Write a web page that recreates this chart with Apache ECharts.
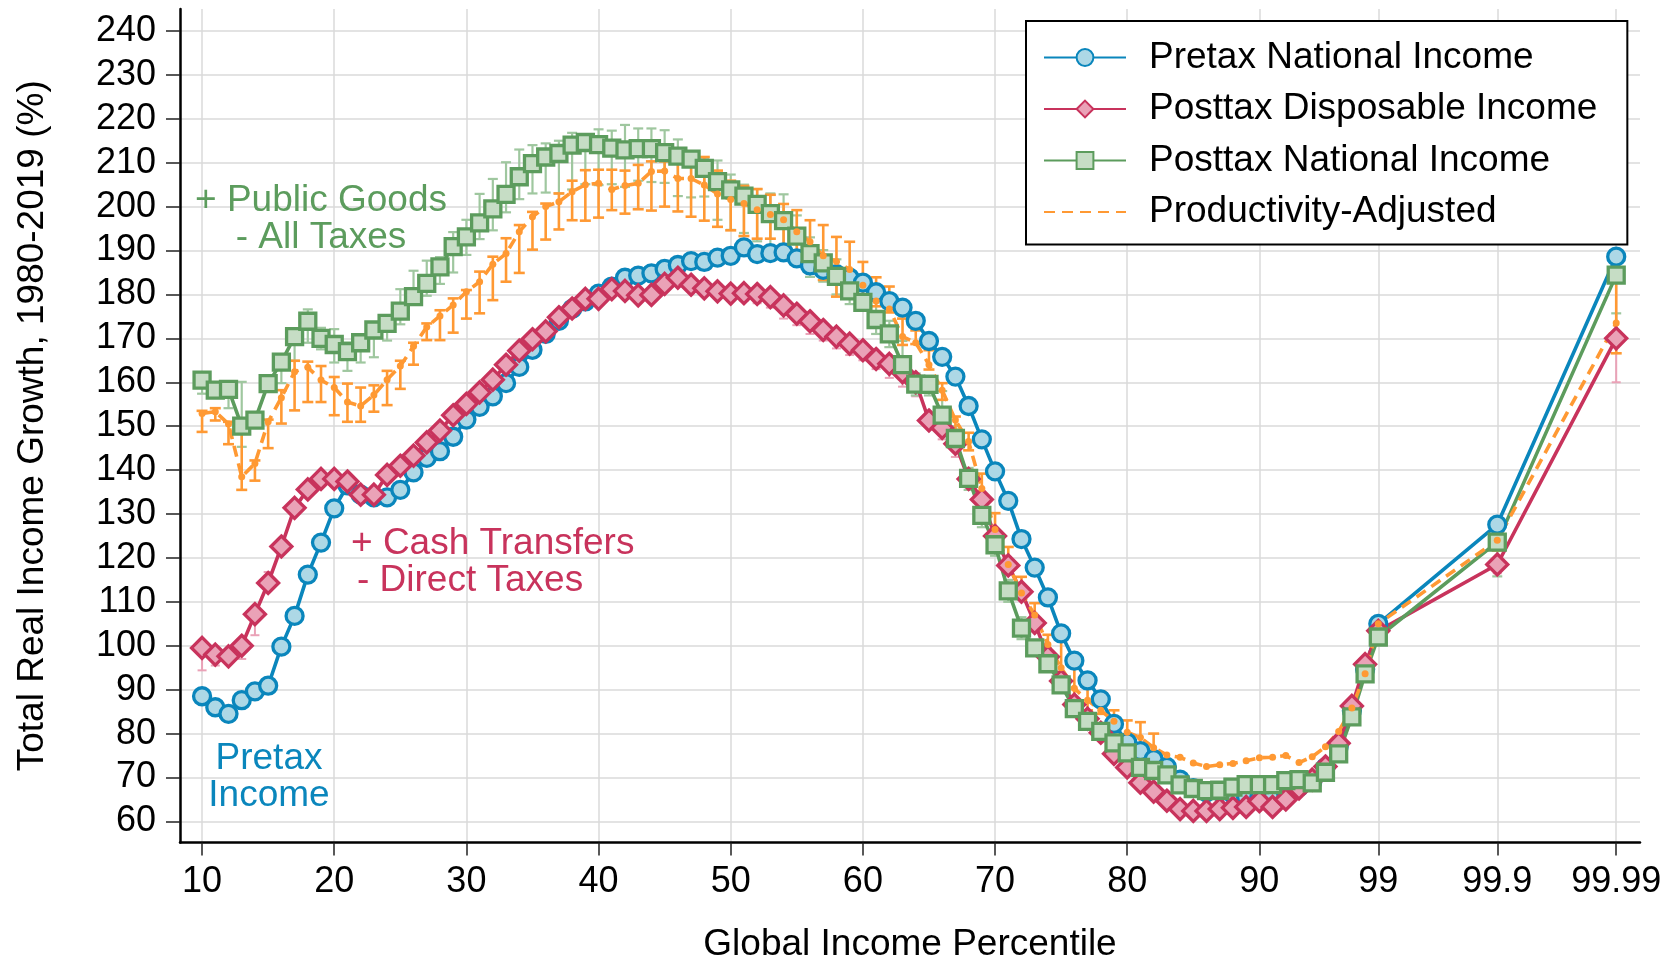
<!DOCTYPE html>
<html>
<head>
<meta charset="utf-8">
<title>Global Income Growth 1980-2019</title>
<script src="https://cdn.jsdelivr.net/npm/echarts@6.0.0/dist/echarts.min.js"></script>
<style>
  html, body { margin: 0; padding: 0; background: #fff; }
  #chart { width: 1677px; height: 961px; }
</style>
</head>
<body>
<div id="chart"></div>
<script>
// Axis positions of the percentile groups (99.9 and 99.99 sit at 108 and 117)
const pctl = [10, 11, 12, 13, 14, 15, 16, 17, 18, 19,
  20, 21, 22, 23, 24, 25, 26, 27, 28, 29,
  30, 31, 32, 33, 34, 35, 36, 37, 38, 39,
  40, 41, 42, 43, 44, 45, 46, 47, 48, 49,
  50, 51, 52, 53, 54, 55, 56, 57, 58, 59,
  60, 61, 62, 63, 64, 65, 66, 67, 68, 69,
  70, 71, 72, 73, 74, 75, 76, 77, 78, 79,
  80, 81, 82, 83, 84, 85, 86, 87, 88, 89,
  90, 91, 92, 93, 94, 95, 96, 97, 98, 99,
  108, 117];

const xTickVals = [10, 20, 30, 40, 50, 60, 70, 80, 90, 99, 108, 117];
const xTickLabels = ['10', '20', '30', '40', '50', '60', '70', '80', '90', '99', '99.9', '99.99'];
const yTickVals = [60, 70, 80, 90, 100, 110, 120, 130, 140, 150, 160, 170, 180, 190, 200, 210, 220, 230, 240];

// Total real income growth 1980-2019 (%)
const pretax = [88.5, 86, 84.5, 87.6, 89.6, 90.9, 99.8, 106.8, 116.2, 123.5,
  131.3, 136.5, 134.4, 133.8, 133.8, 135.5, 139.5, 142.8, 144.3, 147.6,
  151.5, 154.4, 156.8, 159.8, 163.5, 167.4, 171, 174, 176.7, 178.4,
  180.2, 181.8, 183.8, 184.3, 184.8, 185.8, 186.7, 187.6, 187.4, 188.4,
  188.8, 190.7, 189.2, 189.4, 189.6, 188.2, 186.6, 185.6, 184.6, 183.8,
  182.7, 180.5, 178.5, 177, 174, 169.4, 165.8, 161.3, 154.6, 147,
  139.7, 133, 124.3, 117.8, 111, 102.8, 96.6, 92.1, 87.8, 82.2,
  78, 76, 74.2, 72.4, 69.5, 67.6, 66.6, 66.8, 66.2, 65.5,
  65.6, 65.6, 66.7, 67.8, 69, 72.3, 77, 85.2, 94.6, 105,
  127.6, 188.6];

const disposable = [99.5, 98, 97.6, 100, 107.2, 114.3, 122.6, 131.4, 135.6, 138,
  138, 137.4, 134.4, 134.4, 138.9, 141, 143.3, 146.3, 149, 152.5,
  155.1, 157.7, 160.6, 164, 167.2, 169.8, 171.6, 174.8, 176.8, 179,
  179, 181.2, 180.8, 179.8, 179.9, 182.4, 183.8, 182.2, 181.4, 180.7,
  180.2, 180.3, 180.1, 179.4, 177.5, 175.6, 173.9, 171.9, 170.4, 168.8,
  167.3, 165.3, 164.2, 162.3, 160, 151.3, 149.6, 146, 138, 133.3,
  125, 118.3, 112.3, 105.2, 97.5, 92, 86.6, 83.4, 80.2, 75.4,
  72.3, 68.8, 66.8, 64.7, 62.8, 62.4, 62.4, 62.8, 63.1, 63.3,
  64.6, 63.3, 65, 67.5, 69.5, 72.5, 77.8, 86.3, 95.8, 103.4,
  118.5, 170];

const posttax = [160.5, 158.2, 158.4, 150, 151.4, 159.7, 164.6, 170.4, 173.9, 170,
  168.6, 167, 169, 171.9, 173.4, 176.2, 179.5, 182.5, 186.3, 190.9,
  193.1, 196.3, 199.5, 202.8, 206.8, 209.8, 211.3, 212.1, 214, 214.6,
  214.1, 213.3, 212.9, 213.2, 213.2, 212.3, 211.5, 210.8, 208.7, 205.7,
  203.8, 202.4, 200.5, 198.4, 196.8, 193.3, 189.3, 187.2, 184.1, 180.8,
  178.2, 174.3, 171, 164, 159.6, 159.5, 152.5, 147.2, 138.1, 129.7,
  123, 112.5, 104, 99.5, 95.9, 91.1, 85.7, 82.8, 80.5, 77.9,
  75.6, 72.3, 71.6, 70.6, 68.3, 67.5, 67, 67.1, 67.8, 68.4,
  68.4, 68.4, 69.3, 69.5, 68.8, 71.2, 75.4, 83.8, 93.6, 102,
  123.6, 184.4];

const productivity = [152.9, 153.3, 150.5, 138.5, 141.5, 151, 156.5, 162.4, 163.4, 160.5,
  158.8, 155.5, 154.6, 157.1, 160.6, 163.7, 168.2, 172.6, 175.1, 177.6,
  180.6, 182.9, 186.9, 189.3, 194.3, 197.7, 200, 201.1, 203.4, 205,
  205.3, 203.9, 204.8, 205.3, 208, 208.1, 206.4, 206.4, 204.9, 202.9,
  201.6, 200.7, 199.3, 198.2, 197, 194.3, 192, 188.8, 187.5, 185.7,
  182.1, 178.5, 176.7, 170.4, 169, 164, 158.2, 151.4, 146.5, 135.8,
  126.5, 118.5, 112, 107, 100.3, 95, 90.3, 87.6, 85.3, 82.8,
  80.3, 79.1, 76.8, 75.1, 74.6, 73.3, 72.5, 72.9, 73.2, 73.8,
  74.5, 74.6, 75, 73.4, 74.7, 77, 80.5, 85.8, 93.6, 105,
  124, 173.5];

// Confidence ranges (null where no range is drawn)
const productivityLo = [148.7, 151.3, 145.9, 135.5, 137.6, 145, 150.6, 153.6, 155.5, 155.5,
  152.5, 151, 151, 153.3, 154.8, 158.5, 164, 169.6, 169.6, 171.3,
  174.5, 175.7, 178.7, 182.9, 184.9, 190.2, 192.5, 194.8, 196.9, 196.8,
  197.5, 199.2, 198.4, 199.4, 199.1, 200, 198.9, 197.7, 196.8, 195.4,
  194.6, 193.3, 192.7, 192.7, 189.2, 188.6, 185.5, 183.3, 179.5, 181.5,
  179.5, 177.3, 175.9, 168.5, 168.7, 162.9, 156, 149.2, 144.5, 132.4,
  125.6, 117.9, 111.9, 105.8, 98.5, 92.1, 84.2, 85.3, 84.5, 81.1,
  78.5, 77.3, 73.9, null, null, null, null, null, null, null,
  null, null, null, null, null, null, null, null, null, null,
  121.7, 166.6];
const productivityHi = [153.5, 154.1, 151, 149.5, 142.2, 151.5, 158.2, 164.9, 164.7, 163.7,
  161.2, 159.7, 158.8, 159.3, 162.6, 164.9, 169, 173.4, 176.4, 179.1,
  181, 185.2, 188.6, 192.8, 195.8, 198.8, 200.7, 203, 205.9, 208.3,
  208.4, 208.4, 208.2, 209.5, 210.3, 210.3, 212.5, 212.5, 211.3, 208.2,
  205.9, 204.7, 204, 202.7, 200.6, 199.2, 196.9, 195.8, 193.1, 192,
  187.4, 183.9, 181.8, 174.5, 171.8, 167.3, 159.8, 152.2, 148.5, 139.2,
  130.2, 122.5, 115.7, 109.7, 102.5, 102.4, 95.5, 91, 89.5, 85.3,
  83, 82.6, 80, null, null, null, null, null, null, null,
  null, null, null, null, null, null, null, null, null, null,
  126.3, 184.8];

const posttaxLo = [157.4, 156.5, 154.1, 145.3, 150, 158.5, 159.8, 164.9, 169, 167.5,
  164.5, 162.6, 164.5, 165.7, 169.5, 173.2, 178.6, 179.7, 182.4, 185,
  189, 192.6, 194.6, 198.7, 201.7, 203, 203.2, 203, 203.9, 205.1,
  204.9, 205.1, 204.5, 205.9, 205.6, 205.4, 202.4, 202.1, 202.3, 197,
  194.7, 194, 192.1, 191, 191.5, 188, 184, 182.9, 180, 177.8,
  176.6, 171, 168, 162.5, 157, 157, 150, 144.5, 135.5, 127,
  120.5, 110, 101.5, null, null, null, null, null, null, null,
  null, null, null, null, null, null, null, null, null, null,
  null, null, null, null, null, null, null, null, null, null,
  115.8, 171.5];
const posttaxHi = [160.5, 158.5, 159.8, 160.1, 152, 160.5, 165.1, 171.7, 176.6, 172.4,
  172.1, 169.1, 169, 173.6, 175.2, 181.2, 185.4, 187.7, 188.5, 194.2,
  197, 202.9, 206.3, 210.1, 213, 214, 214.4, 215, 216.8, 216.5,
  217.6, 217.3, 218.6, 217.8, 217.8, 217.4, 215.3, 212.5, 211, 210.5,
  207.3, 205, 204, 203, 202.8, 198, 193, 190.1, 188, 183.9,
  182.3, 178.5, 174, 169.4, 162, 161.5, 158, 150, 140.5, 132,
  125.5, 115, 106.5, null, null, null, null, null, null, null,
  null, null, null, null, null, null, null, null, null, null,
  null, null, null, null, null, null, null, null, null, null,
  126.3, 175.7];

const disposableLo = [94.4, 95.5, 96.5, 97, 102.4, 113, null, null, null, null,
  null, null, null, null, null, null, null, null, null, null,
  null, null, null, null, null, null, null, null, null, null,
  null, null, null, null, null, null, null, null, null, 179,
  178.5, 178.5, 178, 177, 174.5, 173, 171, 169.5, 167.7, 166.2,
  165, 163, 161, 159, 156.8, null, 147, 143, 135.5, null,
  null, null, null, null, null, null, null, null, null, null,
  null, null, null, null, null, null, null, null, null, null,
  null, null, null, null, null, null, null, null, null, null,
  116.5, 160];
const disposableHi = [99.7, 98, 98.5, 100, 107.3, 116.8, null, null, null, null,
  null, null, null, null, null, null, null, null, null, null,
  null, null, null, null, null, null, null, null, null, null,
  null, null, null, null, null, null, null, null, null, 181.5,
  181, 181, 180.5, 179.8, 177.2, 176, 174, 172.5, 170.7, 169.6,
  167.7, 165.5, 164.5, 162.4, 161, null, 150, 147, 138.5, null,
  null, null, null, null, null, null, null, null, null, null,
  null, null, null, null, null, null, null, null, null, null,
  null, null, null, null, null, null, null, null, null, null,
  119, 184];

const FONT = 'Liberation Sans, Arial, Helvetica, sans-serif';
const BLUE = '#0a86bc', BLUE_FILL = '#add8e6';
const RED = '#c8335c', RED_FILL = '#eaa2b7';
const GREEN = '#5c9c5d', GREEN_FILL = '#c6ddc5', GREEN_ERR = '#9fc79f';
const ORANGE = '#ff9933';

function pairs(vals) {
  return pctl.map((x, i) => [x, vals[i]]);
}

function ranges(lo, hi) {
  const out = [];
  pctl.forEach((x, i) => {
    if (lo[i] != null && hi[i] != null) out.push([x, lo[i], hi[i]]);
  });
  return out;
}

// Vertical range with end caps, placed through the cartesian coordinate system
function rangeBar(capHalf, color, width) {
  return function (params, api) {
    const x = api.value(0);
    const a = api.coord([x, api.value(1)]);
    const b = api.coord([x, api.value(2)]);
    const style = { stroke: color, lineWidth: width };
    return {
      type: 'group',
      children: [
        { type: 'line', shape: { x1: a[0], y1: a[1], x2: b[0], y2: b[1] }, style: style },
        { type: 'line', shape: { x1: a[0] - capHalf, y1: a[1], x2: a[0] + capHalf, y2: a[1] }, style: style },
        { type: 'line', shape: { x1: b[0] - capHalf, y1: b[1], x2: b[0] + capHalf, y2: b[1] }, style: style }
      ]
    };
  };
}

const chart = echarts.init(document.getElementById('chart'), null, { renderer: 'canvas' });

const axisText = { fontFamily: FONT, fontSize: 36, color: '#000' };

chart.setOption({
  animation: false,
  backgroundColor: '#fff',
  textStyle: { fontFamily: FONT },
  grid: {
    left: 180, right: 37, top: 9, bottom: 118.5,
    containLabel: false, outerBoundsMode: 'none'
  },
  xAxis: {
    type: 'value',
    min: 8.33, max: 118.8,
    name: 'Global Income Percentile',
    nameLocation: 'middle',
    nameGap: 84,
    nameMoveOverlap: false,
    nameTextStyle: { fontFamily: FONT, fontSize: 37, color: '#000' },
    axisLine: { show: true, onZero: false, lineStyle: { color: '#000', width: 2.5 } },
    axisTick: { show: true, length: 13, customValues: xTickVals, lineStyle: { color: '#222', width: 1.5 } },
    axisLabel: Object.assign({
      margin: 22,
      customValues: xTickVals,
      formatter: v => xTickLabels[xTickVals.indexOf(v)]
    }, axisText),
    splitLine: { show: true, lineStyle: { color: '#dadada', width: 1.5 } }
  },
  yAxis: {
    type: 'value',
    min: 55.2, max: 245,
    name: 'Total Real Income Growth, 1980-2019 (%)',
    nameLocation: 'middle',
    nameGap: 129,
    nameMoveOverlap: false,
    nameTextStyle: { fontFamily: FONT, fontSize: 37, color: '#000' },
    axisLine: { show: true, onZero: false, lineStyle: { color: '#000', width: 2.5 } },
    axisTick: { show: true, length: 14, customValues: yTickVals, lineStyle: { color: '#222', width: 1.5 } },
    axisLabel: Object.assign({ margin: 24, customValues: yTickVals, padding: [3, 0, 0, 0] }, axisText),
    splitLine: { show: true, lineStyle: { color: '#dadada', width: 1.5 } }
  },
  legend: {
    orient: 'vertical',
    left: 1026, top: 21,
    padding: [18, 30, 14, 17],
    itemWidth: 82, itemHeight: 21, itemGap: 14.5,
    backgroundColor: '#fff',
    borderColor: '#000', borderWidth: 2, borderRadius: 0,
    textStyle: { fontFamily: FONT, fontSize: 37, color: '#000', padding: [0, 0, 0, 18] },
    data: [
      'Pretax National Income',
      'Posttax Disposable Income',
      'Posttax National Income',
      { name: 'Productivity-Adjusted', itemStyle: { color: 'rgba(0,0,0,0)', borderColor: 'rgba(0,0,0,0)' } }
    ]
  },
  graphic: [
    { type: 'text', x: 321, y: 201, z: 10,
      style: { text: '+ Public Goods', fill: GREEN, fontFamily: FONT, fontSize: 37, align: 'center', verticalAlign: 'middle' } },
    { type: 'text', x: 321, y: 237.5, z: 10,
      style: { text: '- All Taxes', fill: GREEN, fontFamily: FONT, fontSize: 37, align: 'center', verticalAlign: 'middle' } },
    { type: 'text', x: 351, y: 543.5, z: 10,
      style: { text: '+ Cash Transfers', fill: RED, fontFamily: FONT, fontSize: 37, align: 'left', verticalAlign: 'middle' } },
    { type: 'text', x: 357, y: 581, z: 10,
      style: { text: '- Direct Taxes', fill: RED, fontFamily: FONT, fontSize: 37, align: 'left', verticalAlign: 'middle' } },
    { type: 'text', x: 269, y: 758.5, z: 10,
      style: { text: 'Pretax', fill: BLUE, fontFamily: FONT, fontSize: 37, align: 'center', verticalAlign: 'middle' } },
    { type: 'text', x: 269, y: 796, z: 10,
      style: { text: 'Income', fill: BLUE, fontFamily: FONT, fontSize: 37, align: 'center', verticalAlign: 'middle' } }
  ],
  series: [
    {
      name: 'Pretax National Income',
      type: 'line',
      data: pairs(pretax),
      symbol: 'circle', symbolSize: 17,
      lineStyle: { color: BLUE, width: 3.6 },
      itemStyle: { color: BLUE_FILL, borderColor: BLUE, borderWidth: 3.3 }
    },
    {
      name: 'Posttax Disposable Income',
      type: 'line',
      data: pairs(disposable),
      symbol: 'diamond', symbolSize: 21,
      lineStyle: { color: RED, width: 3.6 },
      itemStyle: { color: RED_FILL, borderColor: RED, borderWidth: 3.3 }
    },
    {
      name: 'Disposable range',
      type: 'custom',
      data: ranges(disposableLo, disposableHi),
      encode: { x: 0, y: [1, 2] },
      renderItem: rangeBar(4.5, RED_FILL, 2),
      silent: true
    },
    {
      name: 'Posttax National Income',
      type: 'line',
      data: pairs(posttax),
      symbol: 'rect', symbolSize: 16,
      lineStyle: { color: GREEN, width: 3.6 },
      itemStyle: { color: GREEN_FILL, borderColor: GREEN, borderWidth: 3.3 }
    },
    {
      name: 'Posttax range',
      type: 'custom',
      data: ranges(posttaxLo, posttaxHi),
      encode: { x: 0, y: [1, 2] },
      renderItem: rangeBar(5, GREEN_ERR, 2.2),
      silent: true
    },
    {
      name: 'Productivity-Adjusted',
      type: 'line',
      data: pairs(productivity),
      symbol: 'circle', symbolSize: 7,
      lineStyle: { color: ORANGE, width: 3.6, type: [11, 7] },
      itemStyle: { color: ORANGE }
    },
    {
      name: 'Productivity range',
      type: 'custom',
      data: ranges(productivityLo, productivityHi),
      encode: { x: 0, y: [1, 2] },
      renderItem: rangeBar(5.5, ORANGE, 2.6),
      silent: true
    }
  ]
});
</script>
</body>
</html>
